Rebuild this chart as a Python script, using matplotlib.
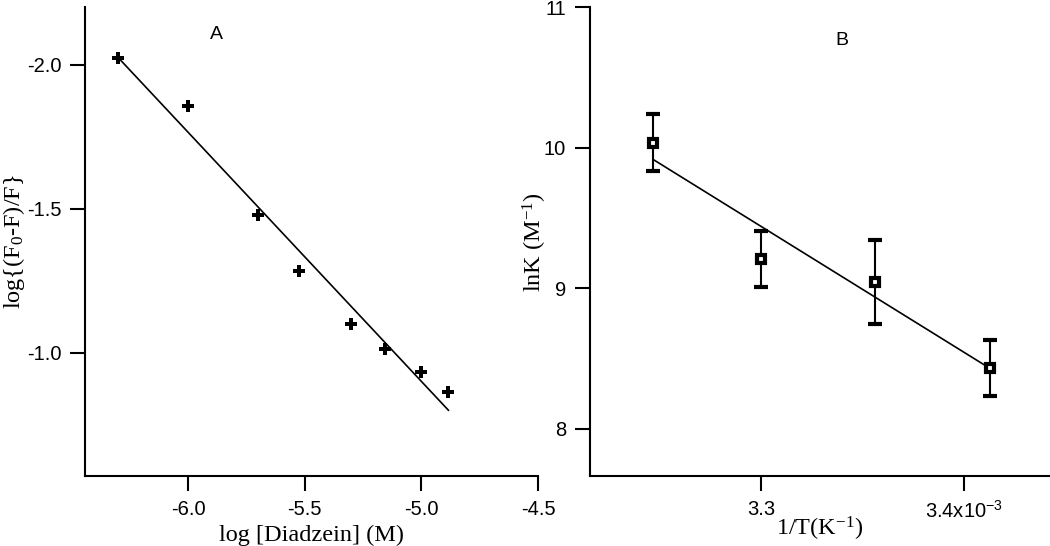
import numpy as np
import matplotlib
matplotlib.use("Agg")
import matplotlib.pyplot as plt

# panel A: double log plot
log_conc = [-6.30, -6.00, -5.70, -5.525, -5.30, -5.157, -5.00, -4.884]
log_ratio = [-2.023, -1.855, -1.479, -1.282, -1.10, -1.013, -0.934, -0.862]

# panel B: van't Hoff plot (1/T in units of 1e-3 K^-1)
inv_T = [3.247, 3.300, 3.356, 3.413]
lnK = [10.037, 9.209, 9.047, 8.433]
lnK_err = [0.20, 0.20, 0.30, 0.20]

sans = "Liberation Sans"
serif = "Liberation Serif"
tick_fs = 14.5
label_fs = 17.5


def style_axes(ax):
    for side in ["top", "right"]:
        ax.spines[side].set_visible(False)
    for side in ["left", "bottom"]:
        ax.spines[side].set_linewidth(1.5)
    ax.tick_params(direction="out", length=11, width=1.5, labelsize=tick_fs, pad=6)
    for lab in ax.get_xticklabels() + ax.get_yticklabels():
        lab.set_fontfamily(sans)


fig = plt.figure(figsize=(10.5, 5.46), dpi=100)
axA = fig.add_axes([0.0812, 0.1275, 0.4312, 0.8595])
axB = fig.add_axes([0.5615, 0.1275, 0.4385, 0.8595])

# ---- panel A
xa = np.array(log_conc)
pa = np.polyfit(xa, log_ratio, 1)
xfit = np.array([xa.min(), xa.max()])
axA.plot(xfit, np.polyval(pa, xfit), color="black", lw=1.2)
axA.plot(log_conc, log_ratio, linestyle="none", marker="P", ms=8, color="black", mew=0)
axA.set_xlim(-6.44, -4.5)
axA.set_ylim(-0.57, -2.2)
axA.set_xticks([-6.0, -5.5, -5.0, -4.5])
axA.set_xticklabels(["-6.0", "-5.5", "-5.0", "-4.5"])
axA.set_yticks([-2.0, -1.5, -1.0])
axA.set_yticklabels(["-2.0", "-1.5", "-1.0"])
axA.set_xlabel("log [Diadzein] (M)", fontfamily=serif, fontsize=label_fs, labelpad=4)
axA.set_ylabel(r"log{(F$\mathregular{_0}$-F)/F}", fontfamily=serif, fontsize=label_fs,
               labelpad=0)
axA.text(0.29, 0.942, "A", transform=axA.transAxes, fontfamily=sans, fontsize=14,
         ha="center", va="center")
style_axes(axA)
for lab in axA.get_xticklabels():
    lab.set_clip_on(False)

# ---- panel B
xb = np.array(inv_T)
pb = np.polyfit(xb, lnK, 1)
xfit = np.array([xb.min(), xb.max()])
axB.plot(xfit, np.polyval(pb, xfit), color="black", lw=1.2)
axB.errorbar(inv_T, lnK, yerr=lnK_err, fmt="s", ms=5.5, mfc="white", mec="black",
             mew=3.0, ecolor="black", elinewidth=1.5, capsize=4.7, capthick=1.5,
             color="black")
axB.set_xlim(3.2156, 3.4424)
axB.set_ylim(7.663, 11.0)
axB.set_xticks([3.3, 3.4])
axB.set_xticklabels(["3.3", r"3.4x10$\mathregular{^{-3}}$"])
axB.set_yticks([8, 9, 10, 11])
axB.set_yticklabels(["8", "9", "10", "11"])
axB.set_xlabel(r"1/T(K$\mathregular{^{-1}}$)", fontfamily=serif, fontsize=label_fs,
               labelpad=-5)
axB.set_ylabel(r"lnK (M$\mathregular{^{-1}}$)", fontfamily=serif, fontsize=label_fs,
               labelpad=-4)
axB.text(3.340, 10.76, "B", fontfamily=sans, fontsize=14, ha="center", va="center")
style_axes(axB)

fig.savefig("out.png", dpi=100)
